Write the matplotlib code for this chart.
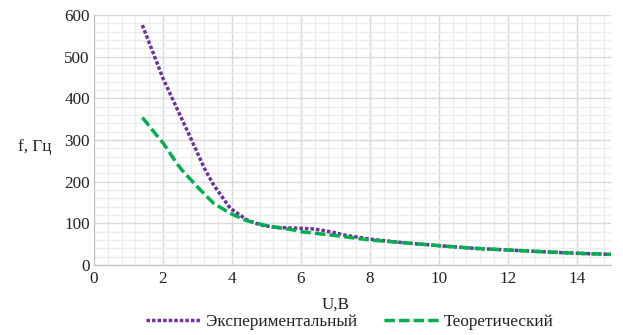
import numpy as np
import matplotlib.pyplot as plt
from matplotlib.ticker import MultipleLocator

# экспериментальные точки, U (В) и f (Гц)
u_exp = [1.4, 2.0, 2.38, 2.74, 3.2, 3.47, 3.95, 4.44, 4.83, 5.31, 6.0, 6.3, 6.57,
         6.96, 7.25, 8.0, 8.9, 10.06, 11.03, 12.0, 12.97, 14.03, 15.0]
f_exp = [576, 448, 380, 316, 232, 192, 136, 108, 96, 90, 88, 87, 84,
         78, 72, 62, 54, 46, 40, 36, 32, 28, 25.5]

# теоретическая кривая
u_th = [1.4, 1.53, 1.77, 2.01, 2.4, 2.55, 2.99, 3.47, 3.95, 4.44, 5.02, 5.79, 6.0,
        6.86, 8.0, 8.9, 10.06, 11.03, 12.0, 12.97, 14.03, 15.0]
f_th = [354, 341, 316, 292, 244, 228, 188, 148, 124, 106, 94, 84, 80,
        72, 60, 54, 46, 40, 36, 32, 28, 25.5]

plt.rcParams['font.family'] = ['Liberation Serif', 'DejaVu Serif']
FS = 12.3

fig = plt.figure(figsize=(6.23, 3.35), dpi=100)
ax = fig.add_axes([0.151, 0.209, 0.830, 0.746])

ax.plot(u_exp, f_exp, color="#7030A0", linewidth=2.5, linestyle=(0, (1, 0.6)),
        label="Экспериментальный")
ax.plot(u_th, f_th, color="#00B050", linewidth=2.5, linestyle=(0, (3, 1.2)),
        label="Теоретический")

ax.set_xlim(0, 15)
ax.set_ylim(0, 600)
ax.xaxis.set_major_locator(MultipleLocator(2))
ax.xaxis.set_minor_locator(MultipleLocator(0.4))
ax.yaxis.set_major_locator(MultipleLocator(100))
ax.yaxis.set_minor_locator(MultipleLocator(20))
ax.grid(which="major", color="#d9d9d9", linewidth=1)
ax.grid(which="minor", color="#ececec", linewidth=1)
ax.set_axisbelow(True)
ax.tick_params(which="both", length=0, labelsize=FS, colors="#222222")
ax.tick_params(axis="y", pad=3)
ax.tick_params(axis="x", pad=4)

for s in ["top", "right"]:
    ax.spines[s].set_visible(False)
for s in ["left", "bottom"]:
    ax.spines[s].set_color("#bfbfbf")

fig.text(336 / 623, 1 - 305 / 335, "U,B", fontsize=FS, ha="center", va="center",
         color="#222222")
fig.text(35 / 623, 1 - 147 / 335, "f, Гц", fontsize=FS, ha="center", va="center",
         color="#222222")

fig.legend(loc="center", bbox_to_anchor=(350 / 623, 1 - 322 / 335), ncol=2, frameon=False,
           fontsize=FS, handlelength=3.2, handletextpad=0.3, columnspacing=1.6,
           borderpad=0, labelcolor="#222222")

fig.savefig("out.png", dpi=100)
